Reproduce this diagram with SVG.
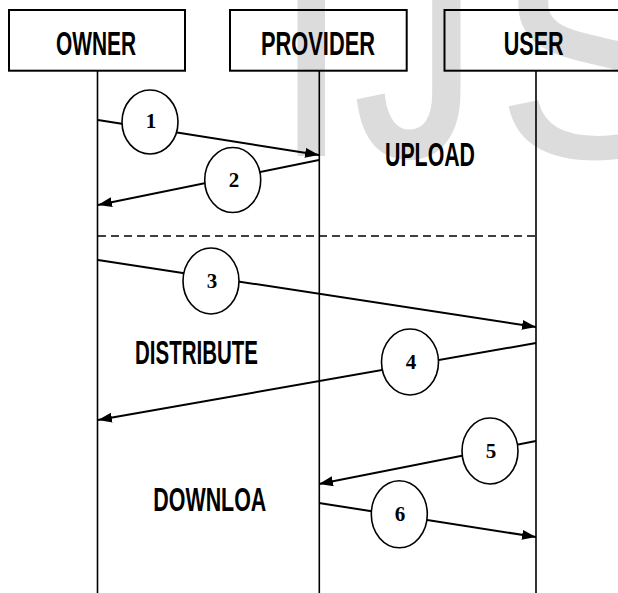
<svg xmlns="http://www.w3.org/2000/svg" width="618" height="593" viewBox="0 0 618 593">
<defs>
<style>
.box{fill:none;stroke:#000;stroke-width:2}
.life{stroke:#000;stroke-width:1.6;fill:none}
.msg{stroke:#000;stroke-width:2;fill:none;marker-end:url(#ah)}
.dash{stroke:#000;stroke-width:1.5;stroke-dasharray:8 5;fill:none}
.hdr{font-family:"Liberation Sans",Arial,sans-serif;font-weight:bold;font-size:34px;fill:#000}
.num-c{fill:#fff;stroke:#000;stroke-width:1.6}
.num{font-family:"Liberation Serif","Times New Roman",serif;font-weight:bold;font-size:21px;fill:#000;text-anchor:middle;dominant-baseline:central}
.wm{font-family:"Liberation Sans",Arial,sans-serif;font-size:295px;fill:#dcdcdc}
</style>
<marker id="ah" markerUnits="userSpaceOnUse" markerWidth="15" markerHeight="11" refX="14" refY="5" orient="auto">
<path d="M0,0 L14,5 L0,10 Z" fill="#000"/>
</marker>
</defs>
<rect width="618" height="593" fill="#fff"/>
<g id="watermark">
<text class="wm" x="270.3" y="156">I</text>
<text class="wm" transform="matrix(0.8,0,0,1,356.8,0)" x="0" y="153" stroke="#dcdcdc" stroke-width="8">J</text>
<text class="wm" x="497" y="156" stroke="#dcdcdc" stroke-width="3">S</text>
</g>

<g id="owner">
<rect class="box" x="9" y="10" width="176" height="60.7"/>
<text class="hdr" x="56" y="55" textLength="80" lengthAdjust="spacingAndGlyphs">OWNER</text>
<line class="life" x1="97.5" y1="70.7" x2="97.5" y2="593"/>
</g>
<g id="provider">
<rect class="box" x="230" y="10" width="176.7" height="60.7"/>
<text class="hdr" x="261" y="55" textLength="114" lengthAdjust="spacingAndGlyphs">PROVIDER</text>
<line class="life" x1="319.3" y1="70.7" x2="319.3" y2="593"/>
</g>
<g id="user">
<rect class="box" x="444.5" y="10" width="180" height="60.7"/>
<text class="hdr" x="503.7" y="55" textLength="60" lengthAdjust="spacingAndGlyphs">USER</text>
<line class="life" x1="536" y1="70.7" x2="536" y2="593"/>
</g>

<g id="sections">
<line class="dash" x1="98" y1="236" x2="537" y2="236"/>
<text class="hdr" x="385" y="165.5" textLength="90" lengthAdjust="spacingAndGlyphs">UPLOAD</text>
<text class="hdr" x="135" y="364" font-size="31" textLength="123" lengthAdjust="spacingAndGlyphs">DISTRIBUTE</text>
<text class="hdr" x="153.3" y="510.7" textLength="113" lengthAdjust="spacingAndGlyphs">DOWNLOA</text>
</g>

<g id="connectors">
<line class="msg" x1="98" y1="120" x2="319" y2="155"/>
<line class="msg" x1="319" y1="160" x2="98" y2="205"/>
<line class="msg" x1="98" y1="260" x2="536" y2="327"/>
<line class="msg" x1="536" y1="343" x2="98" y2="420"/>
<line class="msg" x1="536" y1="441" x2="319" y2="484"/>
<line class="msg" x1="319" y1="503" x2="536" y2="537"/>
</g>

<g id="step1"><ellipse class="num-c" cx="150" cy="122" rx="28" ry="32"/><text class="num" x="151" y="121">1</text></g>
<g id="step2"><ellipse class="num-c" cx="232.7" cy="180" rx="28" ry="32.5"/><text class="num" x="234" y="180">2</text></g>
<g id="step3"><ellipse class="num-c" cx="211" cy="281" rx="28" ry="33"/><text class="num" x="212" y="281">3</text></g>
<g id="step4"><ellipse class="num-c" cx="410" cy="362" rx="28.5" ry="33"/><text class="num" x="411" y="362">4</text></g>
<g id="step5"><ellipse class="num-c" cx="490" cy="451" rx="28" ry="33"/><text class="num" x="491" y="451">5</text></g>
<g id="step6"><ellipse class="num-c" cx="399.3" cy="514.3" rx="28" ry="33.5"/><text class="num" x="400" y="514">6</text></g>
</svg>
